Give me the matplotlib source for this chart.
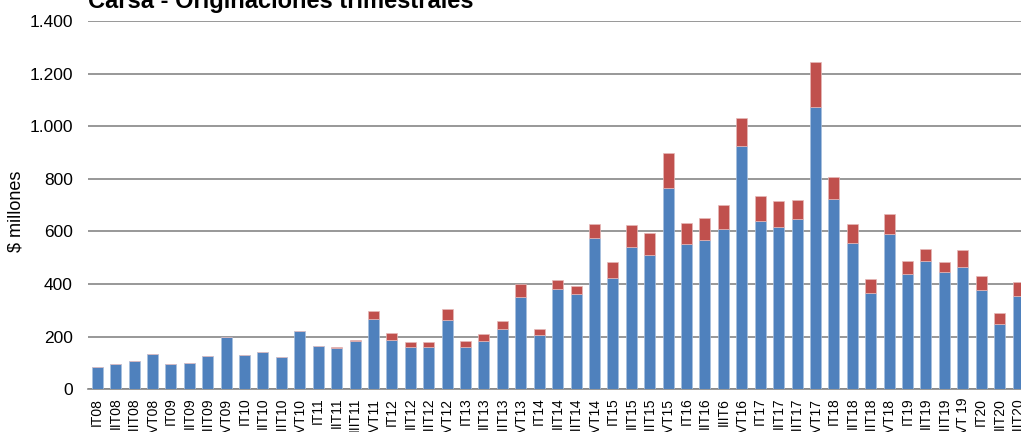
import numpy as np
import matplotlib.pyplot as plt

plt.rcParams['font.family'] = ['Liberation Sans', 'DejaVu Sans']

quarters = ['IT08', 'IIT08', 'IIIT08', 'IVT08', 'IT09', 'IIT09', 'IIIT09', 'IVT09',
            'IT10', 'IIT10', 'IIIT10', 'IVT10', 'IT11', 'IIT11', 'IIIT11', 'IVT11',
            'IT12', 'IIT12', 'IIIT12', 'IVT12', 'IT13', 'IIT13', 'IIIT13', 'IVT13',
            'IT14', 'IIT14', 'IIIT14', 'IVT14', 'IT15', 'IIT15', 'IIIT15', 'IVT15',
            'IT16', 'IIT16', 'IIIT6', 'IVT16', 'IT17', 'IIT17', 'IIIT17', 'IVT17',
            'IT18', 'IIT18', 'IIIT18', 'IVT18', 'IT19', 'IIT19', 'IIIT19', 'IVT 19',
            'IT20', 'IIT20', 'IIIT20']

serie_a = [86, 95, 108, 136, 96, 101, 127, 199,
           132, 141, 123, 222, 164, 158, 184, 269,
           189, 159, 159, 264, 162, 182, 228, 351,
           207, 381, 361, 575, 422, 540, 512, 764,
           553, 569, 608, 925, 639, 616, 646, 1072,
           725, 555, 366, 589, 440, 487, 444, 464,
           376, 250, 356]

serie_b = [0, 0, 0, 0, 0, 0, 0, 0,
           0, 0, 0, 0, 0, 2, 4, 29,
           24, 21, 21, 41, 22, 28, 32, 48,
           21, 35, 33, 55, 62, 84, 84, 135,
           79, 84, 93, 108, 96, 100, 73, 171,
           82, 72, 55, 79, 48, 45, 40, 66,
           55, 40, 51]

x = np.arange(len(quarters))

fig = plt.figure(figsize=(10.21, 4.32), dpi=100)
ax = fig.add_axes([88 / 1021, (432 - 389.3) / 432, 1 - 88 / 1021, (389.3 - 21) / 432])

ax.bar(x, serie_a, width=0.6, color='#4F81BD', edgecolor='#A7BFDE', linewidth=0.5, zorder=3)
ax.bar(x, serie_b, width=0.6, bottom=serie_a, color='#C0504D', edgecolor='#E6B9B8', linewidth=0.5, zorder=3)

ax.set_ylim(0, 1400)
ax.set_xlim(-0.5, 50.16)
ax.set_yticks(range(0, 1401, 200))
ax.set_yticklabels(['0', '200', '400', '600', '800', '1.000', '1.200', '1.400'])
ax.yaxis.grid(True, color='#868686', linewidth=1.2, zorder=1)
ax.set_axisbelow(True)

ax.set_xticks(x)
ax.set_xticklabels(quarters, rotation=90, va='top', ha='center')

for s in ['top', 'right', 'left']:
    ax.spines[s].set_visible(False)
ax.spines['bottom'].set_color('#868686')
ax.spines['bottom'].set_linewidth(1.2)

ax.tick_params(axis='y', length=0, pad=11, labelsize=12.5)
ax.tick_params(axis='x', length=0, pad=6, labelsize=10)

fig.text(16.5 / 1021, (432 - 211) / 432, '$ millones', rotation=90,
         fontsize=13, va='center', ha='center')

fig.text(88 / 1021, (432 - 8) / 432, 'Carsa - Originaciones trimestrales',
         fontsize=17, fontweight='bold', va='baseline', ha='left')

fig.savefig('out.png', dpi=100)
